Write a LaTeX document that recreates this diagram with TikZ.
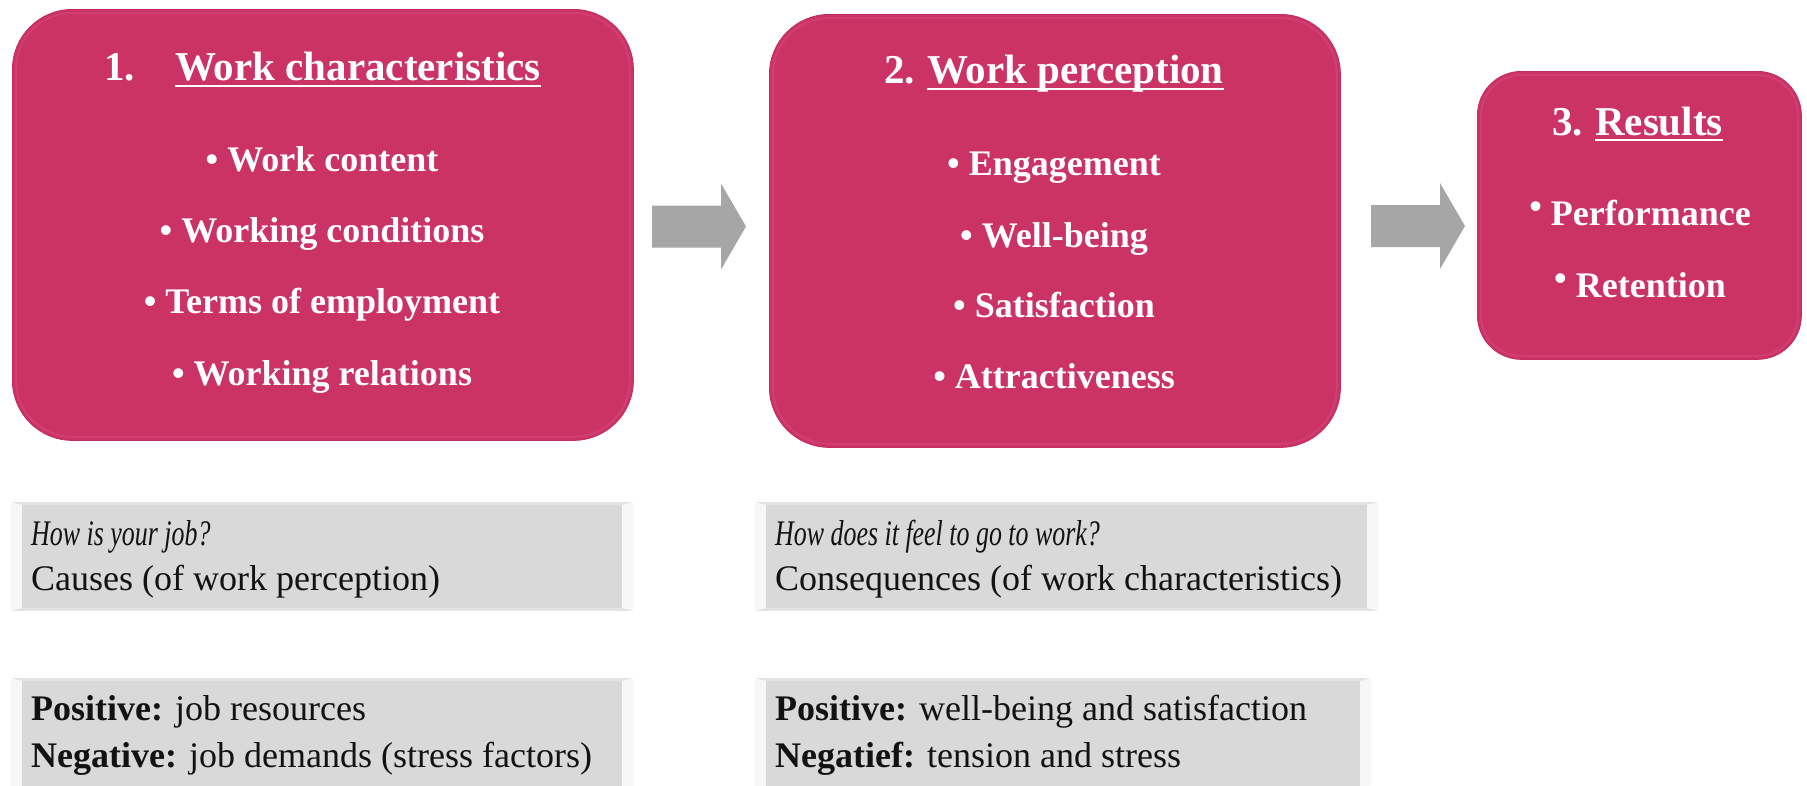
\documentclass[tikz,border=0pt]{standalone}
\usepackage{fontspec}
\setmainfont{Liberation Serif}
\newfontfamily\condserif{Liberation Serif}[FakeStretch=0.72]

\definecolor{boxpink}{RGB}{203,51,101}
\definecolor{pinkrim}{RGB}{192,45,94}
\definecolor{pinkglow}{RGB}{236,120,158}
\definecolor{arrowgray}{RGB}{166,166,166}
\definecolor{panelface}{RGB}{217,217,217}
\definecolor{panelside}{RGB}{247,247,247}
\definecolor{paneledge}{RGB}{227,227,227}
\definecolor{inkgray}{RGB}{18,18,18}

\tikzset{
  pinkbox/.style={rectangle, fill=boxpink, draw=pinkrim, line width=0.8pt,
    inner sep=0pt, anchor=north west},
  titletext/.style={text=white, font=\fontsize{41}{41}\selectfont\bfseries,
    inner sep=0pt, anchor=base west},
  itemtext/.style={text=white, font=\fontsize{36}{36}\selectfont\bfseries,
    inner sep=0pt, anchor=base},
  paneltext/.style={text=inkgray, font=\fontsize{36}{36}\selectfont,
    inner sep=0pt, anchor=base west},
  titleline/.style={draw=white, line width=2pt},
  blockarrow/.pic={
    \fill[arrowgray] (0,-21) -- (69,-21) -- (69,-43) -- (94,0) -- (69,43)
      -- (69,21) -- (0,21) -- cycle;
  }
}

% bevelled grey panel: corners (x1,y1) and (x2,y2)
\newcommand\bevelpanel[4]{%
  \fill[paneledge] (#1,#2) rectangle (#3,#4);
  \fill[panelside] (#1,#2) -- (#1+11,#2+3) -- (#1+11,#4-3) -- (#1,#4) -- cycle;
  \fill[panelside] (#3,#2) -- (#3-11,#2+3) -- (#3-11,#4-3) -- (#3,#4) -- cycle;
  \fill[panelface] (#1+11,#2+3) rectangle (#3-11,#4-3);
}
\newcommand\raisedbullet{\raisebox{7pt}{•}}

\begin{document}
\begin{tikzpicture}[x=1pt,y=-1pt]
\useasboundingbox (0,0) rectangle (1807,785);
\clip (0,0) rectangle (1807,785);
\fill[white] (0,0) rectangle (1807,785);

% ---- main stages ----
\node[pinkbox, rounded corners=60pt, minimum width=621pt, minimum height=431pt] (stage1) at (12,9) {};
\node[pinkbox, rounded corners=60pt, minimum width=571pt, minimum height=433pt] (stage2) at (769,14) {};
\node[pinkbox, rounded corners=44pt, minimum width=324pt, minimum height=288pt] (stage3) at (1477,71) {};

% soft highlight just inside each stage
\draw[pinkglow, opacity=0.18, line width=2pt, rounded corners=56pt]
  ([shift={(4pt,-4pt)}]stage1.north west) rectangle ([shift={(-4pt,4pt)}]stage1.south east);
\draw[pinkglow, opacity=0.18, line width=2pt, rounded corners=56pt]
  ([shift={(4pt,-4pt)}]stage2.north west) rectangle ([shift={(-4pt,4pt)}]stage2.south east);
\draw[pinkglow, opacity=0.18, line width=2pt, rounded corners=40pt]
  ([shift={(4pt,-4pt)}]stage3.north west) rectangle ([shift={(-4pt,4pt)}]stage3.south east);

% stage 1
\node[titletext] (s1num) at (104,80) {1.};
\node[titletext] (s1title) at (175,80) {Work characteristics};
\draw[titleline] ([yshift=-6pt]s1title.base west) -- ([yshift=-6pt]s1title.base east);
\node[itemtext] (s1a) at (322,171) {•~Work content};
\node[itemtext] (s1b) at (322,242) {•~Working conditions};
\node[itemtext] (s1c) at (322,313) {•~Terms of employment};
\node[itemtext] (s1d) at (322,385) {•~Working relations};

% stage 2
\node[titletext] (s2num) at (884,83) {2.};
\node[titletext] (s2title) at (927,83) {Work perception};
\draw[titleline] ([yshift=-6pt]s2title.base west) -- ([yshift=-6pt]s2title.base east);
\node[itemtext] (s2a) at (1054,175) {•~Engagement};
\node[itemtext] (s2b) at (1054,247) {•~Well-being};
\node[itemtext] (s2c) at (1054,317) {•~Satisfaction};
\node[itemtext] (s2d) at (1054,388) {•~Attractiveness};

% stage 3
\node[titletext] (s3num) at (1552,135) {3.};
\node[titletext] (s3title) at (1595,135) {Results};
\draw[titleline] ([yshift=-5pt]s3title.base west) -- ([yshift=-5pt]s3title.base east);
\node[itemtext] (s3a) at (1640,225) {\raisedbullet~Performance};
\node[itemtext] (s3b) at (1640,297) {\raisedbullet~Retention};

% block arrows between the stages
\pic at (652,226.5) {blockarrow};
\pic at (1371,226) {blockarrow};

% ---- explanation panels ----
\bevelpanel{11}{502}{633}{611}
\bevelpanel{755}{502}{1378}{611}
\bevelpanel{11}{678}{633}{800}
\bevelpanel{755}{678}{1371}{800}

\node[paneltext] (pa1) at (31,545) {\condserif\itshape How is your job?};
\node[paneltext] (pa2) at (31,590) {Causes (of work perception)};
\node[paneltext] (pb1) at (775,545) {\condserif\itshape How does it feel to go to work?};
\node[paneltext] (pb2) at (775,590) {Consequences (of work characteristics)};

\node[paneltext] (pc1) at (31,720) {\textbf{Positive:} job resources};
\node[paneltext] (pc2) at (31,767) {\textbf{Negative:} job demands (stress factors)};
\node[paneltext] (pd1) at (775,720) {\textbf{Positive:} well-being and satisfaction};
\node[paneltext] (pd2) at (775,767) {\textbf{Negatief:} tension and stress};
\end{tikzpicture}
\end{document}
